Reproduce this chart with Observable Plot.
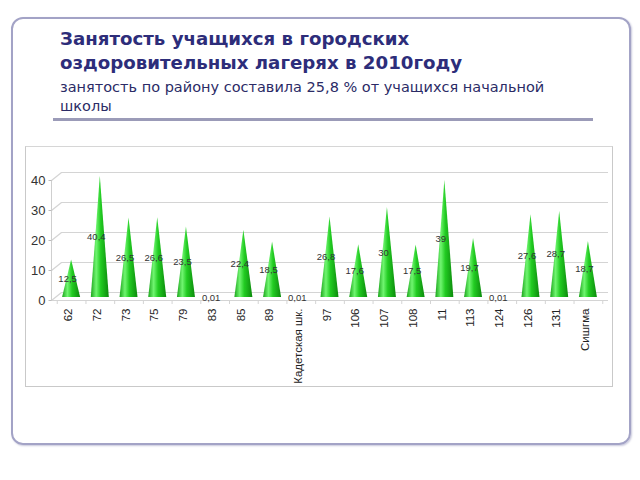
<!DOCTYPE html>
<html>
<head>
<meta charset="utf-8">
<script src="https://cdn.jsdelivr.net/npm/d3@7"></script>
<script src="https://cdn.jsdelivr.net/npm/@observablehq/plot@0.6"></script>
<style>
  html, body { margin: 0; padding: 0; background: #fff; width: 640px; height: 480px; overflow: hidden; }
  .frame { position: absolute; left: 11px; top: 17px; width: 616px; height: 424px; border: 2px solid #a3a3c6; border-radius: 12px; box-shadow: 1px 1px 2px #c8c8dc; }
  .title { position: absolute; left: 60px; top: 27px; font-family: "DejaVu Sans", sans-serif; font-weight: bold; font-size: 18.2px; line-height: 24px; color: #2d2d7a; }
  .subtitle { position: absolute; left: 60px; top: 78px; font-family: "DejaVu Sans", sans-serif; font-size: 14.5px; line-height: 19px; color: #2b2b66; width: 520px; }
  .rule { position: absolute; left: 53px; top: 118px; width: 540px; height: 3px; background: #9b9bb8; }
  .chartbox { position: absolute; left: 25px; top: 146px; width: 586px; height: 239px; border: 1px solid #c9c9c9; border-top-color: #d6d6d6; }
  .chartbox svg { position: absolute; left: 0; top: 0; }
</style>
</head>
<body>
<div class="frame"></div>
<div class="title">Занятость учащихся в городских<br>оздоровительных лагерях в 2010году</div>
<div class="subtitle">занятость по району составила 25,8 % от учащихся начальной школы</div>
<div class="rule"></div>
<div class="chartbox" id="chart"></div>
<script>
const categories = ["62","72","73","75","79","83","85","89","Кадетская шк.","97","106","107","108","11","113","124","126","131","Сишгма"];
const values = [12.5, 40.4, 26.5, 26.6, 23.5, 0.01, 22.4, 18.5, 0.01, 26.8, 17.6, 30, 17.5, 39, 19.7, 0.01, 27.6, 28.7, 18.7];
const valueLabels = ["12,5","40,4","26,5","26,6","23,5","0,01","22,4","18,5","0,01","26,8","17,6","30","17,5","39","19,7","0,01","27,6","28,7","18,7"];
const yTicks = [0, 10, 20, 30, 40];

const W = 586, H = 239;
const xDomain = [-0.7, 18.7];
const mL = 25, mR = 4, mT = 33, mB = 86;
const pxPerX = (W - mL - mR) / (xDomain[1] - xDomain[0]);
const pxPerY = (H - mT - mB) / 40;
const halfW = 9 / pxPerX;

// cone triangles built from the data
const cones = [];
values.forEach((v, i) => {
  cones.push({cat: categories[i], x: i - halfW, y: 0});
  cones.push({cat: categories[i], x: i, y: v});
  cones.push({cat: categories[i], x: i + halfW, y: 0});
});
const rows = values.map((v, i) => ({i, v, label: valueLabels[i]}));
const x0 = xDomain[0];
const connectors = yTicks.map(t => ({x1: x0, y1: t, x2: x0 + 10 / pxPerX, y2: t + 8 / pxPerY}));
const tickMarks = yTicks.map(t => ({x1: x0 - 3 / pxPerX, x2: x0, y: t}));
const catTicks = d3.range(categories.length + 1).map(i => ({x: i - 0.5}));

const plot = Plot.plot({
  width: W, height: H,
  marginLeft: mL, marginRight: mR, marginTop: mT, marginBottom: mB,
  style: {fontFamily: "'Liberation Sans', 'Open Sans', sans-serif", background: "transparent", overflow: "visible"},
  x: {type: "linear", domain: xDomain, axis: null},
  y: {type: "linear", domain: [0, 40], axis: null},
  marks: [
    Plot.ruleY(yTicks, {y: d => d, dy: -8, insetLeft: 10, stroke: "#d4d4d4", strokeWidth: 1.2}),
    Plot.link(connectors, {x1: "x1", y1: "y1", x2: "x2", y2: "y2", stroke: "#d4d4d4", strokeWidth: 1.2}),
    Plot.ruleY([0], {stroke: "#d4d4d4", strokeWidth: 1.2}),
    Plot.ruleX(catTicks, {x: "x", y1: 0, y2: 0, insetBottom: -4, stroke: "#d4d4d4"}),
    Plot.ruleX([x0], {y1: 0, y2: 40, stroke: "#cfcfcf"}),
    Plot.link(tickMarks, {x1: "x1", x2: "x2", y1: "y", y2: "y", stroke: "#bdbdbd"}),
    Plot.text(yTicks, {x: () => x0, y: d => d, text: d => String(d), textAnchor: "end", dx: -6, fontSize: 13, fill: "#333"}),
    Plot.axisX({ticks: d3.range(categories.length), tickFormat: i => categories[i], tickRotate: -90, tickSize: 0, tickPadding: 8, dx: -3, fontSize: 11.5, fill: "#222", label: null}),
    Plot.areaY(cones, {x: "x", y: "y", z: "cat", dy: -3, fill: "url(#coneGrad)", stroke: "none"}),
    Plot.text(rows, {x: "i", y: d => d.v / 2, text: "label", dx: -4, dy: -3, fontSize: 9.5, fill: "#333"})
  ]
});

// horizontal green gradient for cone shading
const svgNS = "http://www.w3.org/2000/svg";
const defs = document.createElementNS(svgNS, "defs");
const grad = document.createElementNS(svgNS, "linearGradient");
grad.setAttribute("id", "coneGrad");
grad.setAttribute("x1", "0"); grad.setAttribute("x2", "1");
grad.setAttribute("y1", "0"); grad.setAttribute("y2", "0");
[["0", "#1ca51c"], ["0.3", "#70f570"], ["0.55", "#22cc22"], ["1", "#0c8a0c"]].forEach(([o, c]) => {
  const s = document.createElementNS(svgNS, "stop");
  s.setAttribute("offset", o); s.setAttribute("stop-color", c);
  grad.appendChild(s);
});
defs.appendChild(grad);
plot.insertBefore(defs, plot.firstChild);

document.getElementById("chart").appendChild(plot);
</script>
</body>
</html>
